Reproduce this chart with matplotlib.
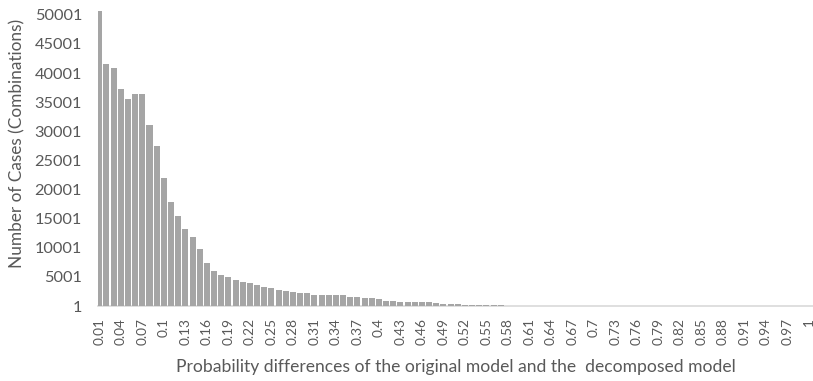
import numpy as np
import matplotlib
matplotlib.use("Agg")
import matplotlib.pyplot as plt

# categories: probability differences 0.01 .. 1
categories = [round(0.01 * i, 2) for i in range(1, 101)]
cat_labels = [("%g" % c) for c in categories]

# number of cases per category
cases = [50700, 41630, 40940, 37320, 35600, 36340, 36340, 31000, 27500, 22050,
         17910, 15500, 13200, 11880, 9870, 7400, 6030, 5340, 4990, 4530,
         4130, 4000, 3650, 3300, 3150, 2750, 2580, 2410, 2240, 2240,
         1950, 1950, 1950, 1840, 1840, 1550, 1550, 1380, 1380, 1180,
         860, 860, 700, 700, 700, 700, 700, 520, 420, 420,
         290, 170, 170, 170, 170, 170, 170, 1, 1, 1,
         1, 1, 1, 1, 1, 1, 1, 1, 1, 1,
         1, 1, 1, 1, 1, 1, 1, 1, 1, 1,
         1, 1, 1, 1, 1, 1, 1, 1, 1, 1,
         1, 1, 1, 1, 1, 1, 1, 1, 1, 1]

yticks = list(range(1, 50002, 5000))

plt.rcParams['font.family'] = ['Lato', 'DejaVu Sans']
txt = '#595959'

W, H = 813, 381
fig = plt.figure(figsize=(W / 100, H / 100), dpi=100)
left, right, bottom, top = 98.3, 813, 306, 0
ax = fig.add_axes([left / W, (H - bottom) / H, (right - left) / W, (bottom - top) / H])

x = np.arange(len(categories))
ax.bar(x, cases, width=0.84, color='#a5a5a5', zorder=2)

ax.set_xlim(-0.14, 99.54)
ax.set_ylim(1, 52540)
ax.set_yticks(yticks)
ax.set_yticklabels([str(t) for t in yticks], fontsize=11.8, color=txt)
ax.set_xticks(x[::3])
ax.set_xticklabels(cat_labels[::3], rotation=90, fontsize=9.8, color=txt)
ax.tick_params(axis='both', length=0)
ax.tick_params(axis='y', pad=11.7)
ax.tick_params(axis='x', pad=8.5)

for s in ['top', 'right', 'left']:
    ax.spines[s].set_visible(False)
ax.spines['bottom'].set_color('#d9d9d9')
ax.spines['bottom'].set_linewidth(1.2)
ax.spines['bottom'].set_zorder(1)

ax.set_ylabel('Number of Cases (Combinations)', fontsize=12.4, color=txt, labelpad=7)
ax.yaxis.label.set_y(0.531)
ax.set_xlabel('Probability differences of the original model and the  decomposed model',
              fontsize=12.6, color=txt, labelpad=10)

fig.savefig('out.png', dpi=100)
